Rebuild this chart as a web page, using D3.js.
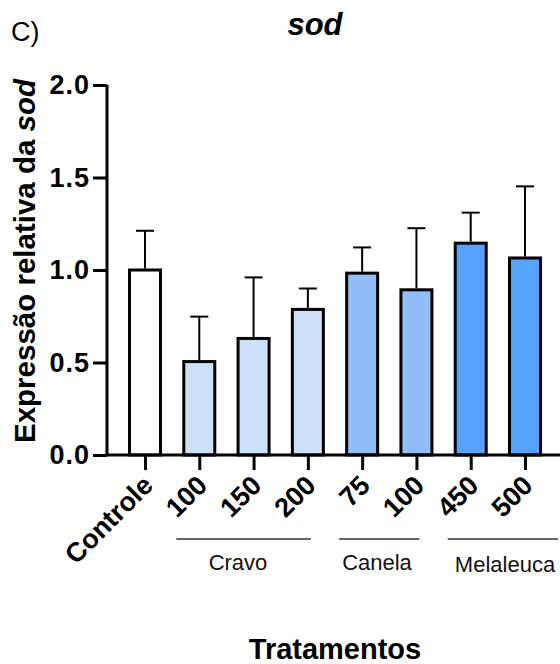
<!DOCTYPE html>
<html>
<head>
<meta charset="utf-8">
<script src="https://cdn.jsdelivr.net/npm/d3@7"></script>
<style>
  body { margin: 0; background: #fff; }
  svg { display: block; font-family: Arial, "Liberation Sans", sans-serif; }
</style>
</head>
<body>
<svg width="560" height="664"></svg>
<script>
(function (d3) {
  "use strict";

  // data
  var categories = ["Controle", "100", "150", "200", "75", "100 ", "450", "500"];
  var means = [1.0, 0.505, 0.63, 0.787, 0.983, 0.893, 1.145, 1.065];
  var upperErr = [1.212, 0.748, 0.96, 0.9, 1.122, 1.226, 1.31, 1.452];
  var fills = ["#ffffff", "#cce0f8", "#cce0f8", "#cce0f8", "#91bef9", "#91bef9", "#56a2fc", "#56a2fc"];
  var groups = ["Cravo", "Canela", "Melaleuca"];
  var groupStart = [1, 4, 6];
  var groupEnd = [3, 5, 7];
  var yTicks = [0, 0.5, 1, 1.5, 2];

  var svg = d3.select("svg");

  var x = d3.scalePoint().domain(categories).range([145, 525]);
  var y = d3.scaleLinear().domain([0, 2]).range([455, 85]);
  var barWidth = 31;

  // title and panel letter
  svg.append("text")
    .attr("x", 11).attr("y", 41)
    .attr("font-size", 27)
    .text("C)");

  svg.append("text")
    .attr("x", 315).attr("y", 35)
    .attr("text-anchor", "middle")
    .attr("font-size", 31)
    .attr("font-weight", "bold")
    .attr("font-style", "italic")
    .text("sod");

  // bars
  svg.append("g").selectAll("rect")
    .data(means)
    .join("rect")
    .attr("x", function (d, i) { return x(categories[i]) - barWidth / 2; })
    .attr("y", function (d) { return y(d); })
    .attr("width", barWidth)
    .attr("height", function (d) { return y(0) - y(d); })
    .attr("fill", function (d, i) { return fills[i]; })
    .attr("stroke", "#000")
    .attr("stroke-width", 3);

  // error bars (upper only)
  var errG = svg.append("g").attr("stroke", "#000").attr("stroke-width", 2);
  errG.selectAll("line.v")
    .data(upperErr)
    .join("line")
    .attr("class", "v")
    .attr("x1", function (d, i) { return x(categories[i]); })
    .attr("x2", function (d, i) { return x(categories[i]); })
    .attr("y1", function (d, i) { return y(means[i]) - 1.5; })
    .attr("y2", function (d) { return y(d); });
  errG.selectAll("line.cap")
    .data(upperErr)
    .join("line")
    .attr("class", "cap")
    .attr("x1", function (d, i) { return x(categories[i]) - 9; })
    .attr("x2", function (d, i) { return x(categories[i]) + 9; })
    .attr("y1", function (d) { return y(d); })
    .attr("y2", function (d) { return y(d); });

  // y axis
  var yAxis = svg.append("g")
    .attr("transform", "translate(107,0)")
    .call(d3.axisLeft(y).tickValues(yTicks).tickFormat(d3.format(".1f")).tickSize(14).tickPadding(3));
  yAxis.select(".domain").attr("stroke-width", 3).attr("d", "M0," + y(2) + "V" + y(0));
  yAxis.selectAll(".tick line").attr("stroke-width", 3);
  yAxis.selectAll(".tick text")
    .attr("font-size", 27)
    .attr("font-weight", "bold")
    .attr("font-family", "Arial, 'Liberation Sans', sans-serif")
    .attr("letter-spacing", 1)
    .attr("fill", "#000");

  // x axis
  var xAxis = svg.append("g")
    .attr("transform", "translate(0,455)")
    .call(d3.axisBottom(x).tickSize(15).tickSizeOuter(0));
  xAxis.select(".domain").attr("stroke-width", 3).attr("d", "M105.5,0H560");
  xAxis.selectAll(".tick line").attr("stroke-width", 3);
  xAxis.selectAll(".tick text")
    .attr("font-size", 27)
    .attr("font-weight", "bold")
    .attr("font-family", "Arial, 'Liberation Sans', sans-serif")
    .attr("fill", "#000")
    .attr("text-anchor", "end")
    .attr("dy", null)
    .attr("y", 0)
    .attr("transform", "translate(9,32) rotate(-45)")
    .text(function (d) { return d.trim(); });

  // treatment group lines and names
  var grpG = svg.append("g");
  grpG.selectAll("line")
    .data(groups)
    .join("line")
    .attr("x1", function (d, i) { return x(categories[groupStart[i]]) - 23; })
    .attr("x2", function (d, i) { return x(categories[groupEnd[i]]) + (i === 2 ? 33 : 3); })
    .attr("y1", 539).attr("y2", 539)
    .attr("stroke", "#333")
    .attr("stroke-width", 1.5);
  grpG.selectAll("text")
    .data(groups)
    .join("text")
    .attr("x", function (d, i) { return [238, 377, 505][i]; })
    .attr("y", function (d, i) { return i === 2 ? 572 : 570; })
    .attr("text-anchor", "middle")
    .attr("font-size", 22)
    .attr("fill", "#111")
    .text(function (d) { return d; });

  // axis titles
  svg.append("text")
    .attr("transform", "translate(35,261) rotate(-90)")
    .attr("text-anchor", "middle")
    .attr("font-size", 29.5)
    .attr("font-weight", "bold")
    .text("Expressão relativa da ")
    .append("tspan")
    .attr("font-style", "italic")
    .text("sod");

  svg.append("text")
    .attr("x", 335).attr("y", 659)
    .attr("text-anchor", "middle")
    .attr("font-size", 29)
    .attr("font-weight", "bold")
    .text("Tratamentos");
})(d3);
</script>
</body>
</html>
